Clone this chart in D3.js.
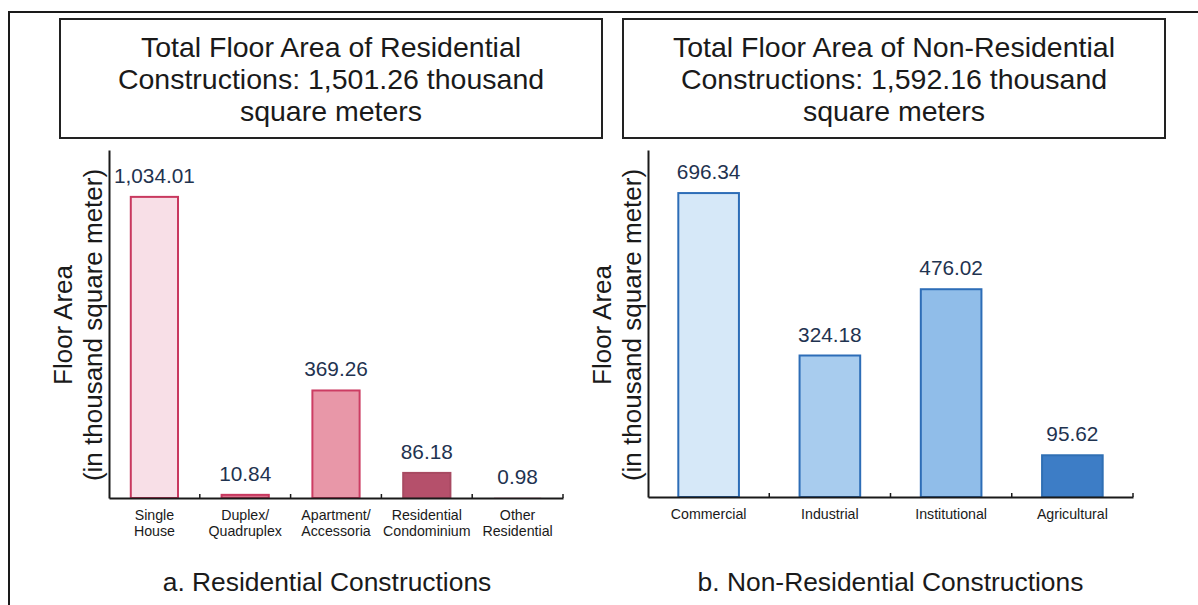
<!DOCTYPE html>
<html>
<head>
<meta charset="utf-8">
<script src="https://cdn.jsdelivr.net/npm/d3@7"></script>
<style>
  html, body { margin: 0; padding: 0; background: #fff; }
  svg { display: block; font-family: "Liberation Sans", Arial, sans-serif; }
</style>
</head>
<body>
<svg id="chart" width="1198" height="605"></svg>
<script>
// ---- data ----
const resCategories = [["Single", "House"], ["Duplex/", "Quadruplex"], ["Apartment/", "Accessoria"], ["Residential", "Condominium"], ["Other", "Residential"]];
const resValues = [1034.01, 10.84, 369.26, 86.18, 0.98];
const resLabels = ["1,034.01", "10.84", "369.26", "86.18", "0.98"];
const resTitle = ["Total Floor Area of Residential", "Constructions: 1,501.26 thousand", "square meters"];
const resCaption = "a. Residential Constructions";

const nonCategories = [["Commercial"], ["Industrial"], ["Institutional"], ["Agricultural"]];
const nonValues = [696.34, 324.18, 476.02, 95.62];
const nonLabels = ["696.34", "324.18", "476.02", "95.62"];
const nonTitle = ["Total Floor Area of Non-Residential", "Constructions: 1,592.16 thousand", "square meters"];
const nonCaption = "b. Non-Residential Constructions";

const yTitle = ["Floor Area", "(in thousand square meter)"];

// ---- styles ----
const resFill = ["#f8dfe7", "#d9708b", "#e897a8", "#b5506b", "#d9708b"];
const resStroke = ["#c8385f", "#c8385f", "#cc3d63", "#a84a62", "#c8385f"];
const nonFill = ["#d6e8f8", "#a8ccee", "#90bde9", "#3d7dc6"];
const nonStroke = ["#2d6db7", "#2d6db7", "#2d6db7", "#2f6fb4"];

const svg = d3.select("#chart");

// outer frame
svg.append("rect").attr("x", 9).attr("y", 12).attr("width", 1200).attr("height", 620)
  .attr("fill", "none").attr("stroke", "#1a1a1a").attr("stroke-width", 2);

function panel(cfg) {
  const g = svg.append("g");
  // title box
  g.append("rect").attr("x", cfg.box[0]).attr("y", 19).attr("width", cfg.box[1] - cfg.box[0]).attr("height", 119)
    .attr("fill", "#fff").attr("stroke", "#222").attr("stroke-width", 2);
  const cx = (cfg.box[0] + cfg.box[1]) / 2;
  g.selectAll("text.ttl").data(cfg.title).join("text").attr("class", "ttl")
    .attr("x", cx).attr("y", (d, i) => 57 + i * 32)
    .attr("text-anchor", "middle").attr("font-size", 28.5).attr("fill", "#1a1a1a").text(d => d);

  const x = d3.scaleBand().domain(cfg.cats.map((d, i) => i)).range(cfg.xr)
    .paddingInner(cfg.pad).paddingOuter(cfg.pad / 2);
  const y = d3.scaleLinear().domain([0, cfg.ymax]).range([cfg.base, 150]);

  // bars
  g.selectAll("rect.bar").data(cfg.values).join("rect").attr("class", "bar")
    .attr("x", (d, i) => x(i)).attr("width", x.bandwidth())
    .attr("y", d => y(d)).attr("height", d => y(0) - y(d))
    .attr("fill", (d, i) => cfg.fill[i]).attr("stroke", (d, i) => cfg.stroke[i])
    .attr("stroke-width", d => (y(0) - y(d)) > 2 ? 2 : 0);

  // value labels
  g.selectAll("text.val").data(cfg.values).join("text").attr("class", "val")
    .attr("x", (d, i) => x(i) + x.bandwidth() / 2).attr("y", d => y(d) - 14)
    .attr("text-anchor", "middle").attr("font-size", 20.8).attr("fill", "#1f3350")
    .text((d, i) => cfg.labels[i]);

  // y axis (line only)
  const yAxis = d3.axisLeft(y).tickValues([]).tickSizeOuter(0);
  g.append("g").attr("transform", `translate(${cfg.xr[0]},0)`).call(yAxis)
    .call(s => s.select(".domain").attr("stroke", "#1a1a1a").attr("stroke-width", 2));

  // x axis
  const xAxis = d3.axisBottom(x).tickSize(0).tickSizeOuter(0).tickFormat(() => "");
  g.append("g").attr("transform", `translate(0,${cfg.base})`).call(xAxis)
    .call(s => s.select(".domain").attr("stroke", "#1a1a1a").attr("stroke-width", 2));
  // boundary ticks (upward)
  const bounds = cfg.cats.map((d, i) => x(i) - x.step() * cfg.pad / 2).slice(1).concat([cfg.xr[1]]);
  g.selectAll("line.bt").data(bounds).join("line").attr("class", "bt")
    .attr("x1", d => d).attr("x2", d => d).attr("y1", cfg.base).attr("y2", cfg.base - 4)
    .attr("stroke", "#1a1a1a").attr("stroke-width", 1.5);

  // category labels
  const cl = g.selectAll("text.cat").data(cfg.cats).join("text").attr("class", "cat")
    .attr("x", (d, i) => x(i) + x.bandwidth() / 2).attr("y", cfg.base + 22)
    .attr("text-anchor", "middle").attr("font-size", 14.2).attr("fill", "#1a1a1a");
  cl.selectAll("tspan").data(d => d).join("tspan")
    .attr("x", function () { return d3.select(this.parentNode).attr("x"); })
    .attr("dy", (d, i) => i === 0 ? 0 : 15.5).text(d => d);

  // y title
  g.selectAll("text.yt").data(yTitle).join("text").attr("class", "yt")
    .attr("transform", (d, i) => `translate(${cfg.yt[i]},325) rotate(-90)`)
    .attr("text-anchor", "middle").attr("font-size", 26).attr("fill", "#1a1a1a").text(d => d);

  // caption
  g.append("text").attr("x", (cfg.xr[0] + cfg.xr[1]) / 2 + cfg.capdx).attr("y", 591)
    .attr("text-anchor", "middle").attr("font-size", 26.4).attr("fill", "#1a1a1a").text(cfg.caption);
}

panel({ box: [60, 602], title: resTitle, cats: resCategories, values: resValues, labels: resLabels,
  xr: [109, 563], pad: 0.48, ymax: 1195, base: 498, fill: resFill, stroke: resStroke,
  yt: [72, 102], caption: resCaption, capdx: -9 });
panel({ box: [623, 1165], title: nonTitle, cats: nonCategories, values: nonValues, labels: nonLabels,
  xr: [648, 1133], pad: 0.5, ymax: 795, base: 497, fill: nonFill, stroke: nonStroke,
  yt: [611, 641], caption: nonCaption, capdx: 0 });
</script>
</body>
</html>
